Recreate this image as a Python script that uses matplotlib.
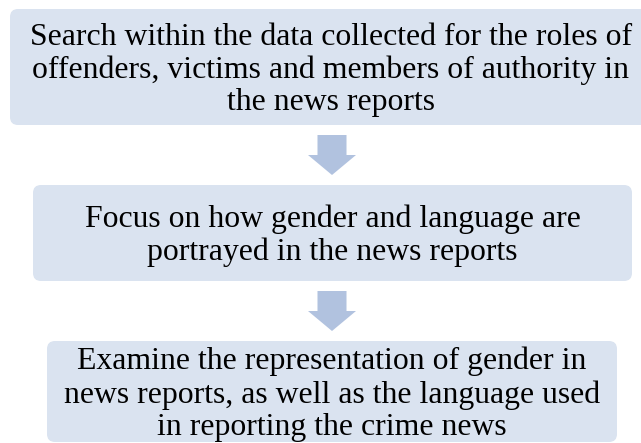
import matplotlib.pyplot as plt
from matplotlib.patches import FancyBboxPatch, Polygon

# Flowchart content
steps = [
    "Search within the data collected for the roles of\noffenders, victims and members of authority in\nthe news reports",
    "Focus on how gender and language are\nportrayed in the news reports",
    "Examine the representation of gender in\nnews reports, as well as the language used\nin reporting the crime news",
]
# box extents in pixels: (left, top, right, bottom)
boxes = [(10, 9, 660, 125), (33, 185, 632, 281), (47, 341, 617, 442)]

box_color = '#DAE3F0'
arrow_color = '#B1C2DF'

fig = plt.figure(figsize=(6.41, 4.43), dpi=100)
ax = fig.add_axes([0, 0, 1, 1])
ax.set_xlim(0, 641)
ax.set_ylim(443, 0)
ax.axis('off')

for text, (x0, y0, x1, y1) in zip(steps, boxes):
    r = 8
    patch = FancyBboxPatch((x0 + r, y0 + r), (x1 - x0) - 2 * r, (y1 - y0) - 2 * r,
                           boxstyle=f"round,pad={r}", fc=box_color, ec='none')
    ax.add_patch(patch)
    ax.text((x0 + x1) / 2 if x1 < 641 else 331, (y0 + y1) / 2 + 3, text,
            ha='center', va='center', fontsize=22.9, family='Liberation Serif',
            linespacing=1.16, color='black')

# down arrows between boxes
cx = 332
for (_, _, _, b_top), (_, n_top, _, _) in zip(boxes[:-1], boxes[1:]):
    top = b_top + 10
    tip = n_top - 10
    neck = top + (tip - top) * 0.5
    pts = [(cx - 14.5, top), (cx + 14.5, top), (cx + 14.5, neck), (cx + 24, neck),
           (cx, tip), (cx - 24, neck), (cx - 14.5, neck)]
    ax.add_patch(Polygon(pts, closed=True, fc=arrow_color, ec='none'))

plt.savefig('out.png', dpi=100)
plt.close()
